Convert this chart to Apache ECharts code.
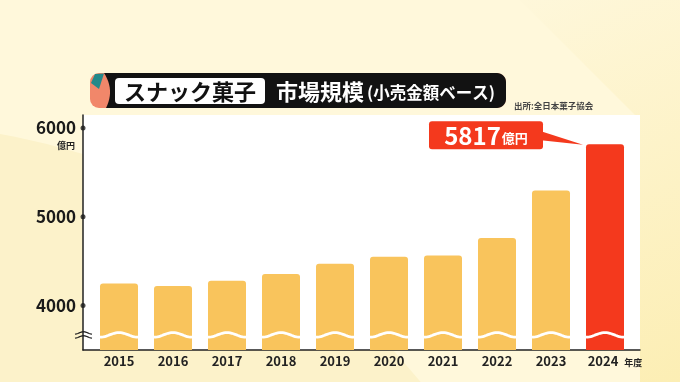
<!DOCTYPE html>
<html>
<head>
<meta charset="utf-8">
<script src="https://cdn.jsdelivr.net/npm/echarts@6/dist/echarts.min.js"></script>
<style>
html,body{margin:0;padding:0;background:#FFF8DB;}
#chart{width:680px;height:382px;}
</style>
</head>
<body>
<div id="chart"></div>
<script>
// ---- data ----
const years = ['2015','2016','2017','2018','2019','2020','2021','2022','2023','2024'];
const values = [4250, 4220, 4280, 4355, 4470, 4550, 4565, 4760, 5295, 5817];
const yTickLabels = [4000, 5000, 6000];
const yUnit = '億円';
const xUnit = '年度';
const calloutNumber = '5817';
const titleMain = 'スナック菓子';
const titleSub = '市場規模';
const titleParen = '(小売金額ベース)';
const sourceText = '出所:全日本菓子協会';
const breakValue = 3670;

const FONT = '"Noto Sans CJK JP", "Noto Sans", sans-serif';
const BAR = '#F9C45C';
const RED = '#F4391D';
const lastIdx = values.length - 1;

const chart = echarts.init(document.getElementById('chart'), null, {renderer:'canvas'});

function wavePoints(x0, x1, yc, amp, n) {
  const pts = [];
  for (let t = 0; t <= n; t++) {
    pts.push([x0 + (x1 - x0) * t / n, yc + amp * Math.cos(2 * Math.PI * t / n)]);
  }
  return pts;
}
function pillPoints() {
  const pts = [];
  for (let t = 0; t <= 12; t++) {
    const u = t / 12;
    const x = (1-u)*(1-u)*106 + 2*(1-u)*u*115 + u*u*104;
    const y = (1-u)*(1-u)*108 + 2*(1-u)*u*90 + u*u*73;
    pts.push([x, y]);
  }
  const r = 9, R = 506, T = 73, B = 108;
  for (let t = 0; t <= 8; t++) { const a = -Math.PI/2 + (Math.PI/2)*t/8; pts.push([R - r + r*Math.cos(a), T + r + r*Math.sin(a)]); }
  for (let t = 0; t <= 8; t++) { const a = (Math.PI/2)*t/8; pts.push([R - r + r*Math.cos(a), B - r + r*Math.sin(a)]); }
  return pts;
}

const option = {
  backgroundColor: '#FFF8DB',
  animation: false,
  textStyle: { fontFamily: FONT },
  grid: [
    { left: 83, right: 40, top: 115, bottom: 32, show: true, backgroundColor: '#FFFFFF', borderWidth: 0 },
    { left: 92, right: 48, top: 128, bottom: 32 }
  ],
  xAxis: [
    { gridIndex: 0, type: 'value', min: 0, max: 1,
      axisLine: { show: true, onZero: false, lineStyle: { color: '#222', width: 1.5 } },
      axisTick: { show: false }, axisLabel: { show: false }, splitLine: { show: false } },
    { gridIndex: 1, type: 'category', data: years,
      axisLine: { show: false }, axisTick: { show: false },
      axisLabel: {
        interval: 0, margin: 5, color: '#222', fontSize: 13, fontWeight: 'bold', fontFamily: FONT,
        formatter: (v, i) => i === lastIdx ? '{s|}{y|' + v + '}{u|' + xUnit + '}' : v,
        rich: {
          s: { width: 22 },
          y: { fontSize: 13, fontWeight: 'bold', color: '#222', fontFamily: FONT },
          u: { fontSize: 9, fontWeight: 'bold', color: '#222', width: 22, padding: [2, 0, 0, 4], fontFamily: FONT }
        }
      } }
  ],
  yAxis: [
    { gridIndex: 0, type: 'value', min: 3500, max: 6146, interval: 500,
      axisLine: { show: true, lineStyle: { color: '#222', width: 1.5 } },
      axisTick: { show: false }, splitLine: { show: false },
      axisLabel: { margin: 7, color: '#1a1a1a', fontSize: 17, fontWeight: 'bold', fontFamily: FONT,
        formatter: v => yTickLabels.includes(v) ? String(v) : '' } },
    { gridIndex: 1, type: 'value', min: 3500, max: 6000, show: false }
  ],
  series: [
    { type: 'bar', xAxisIndex: 1, yAxisIndex: 1, barWidth: 38,
      data: values.map((v, i) => ({ value: v, itemStyle: { color: i === lastIdx ? RED : BAR } })),
      itemStyle: { borderRadius: [3, 3, 0, 0] } },
    { type: 'scatter', xAxisIndex: 0, yAxisIndex: 0, symbolSize: 5, z: 5,
      itemStyle: { color: '#1a1a1a' }, clip: false,
      data: yTickLabels.map(v => [0, v]) },
    { type: 'custom', xAxisIndex: 1, yAxisIndex: 1, z: 10, clip: false,
      data: values.map((v, i) => [i, v]),
      renderItem: function (params, api) {
        const i = api.value(0);
        const v = api.value(1);
        const top = api.coord([i, v]);
        const base = api.coord([i, breakValue]);
        const half = 19;
        const children = [{
          type: 'polyline',
          shape: { points: wavePoints(top[0] - half, top[0] + half, base[1], 2.3, 24) },
          style: { stroke: '#FFFFFF', lineWidth: 2.8, fill: null }
        }];
        if (i === 0) {
          const ax = params.coordSys.x - 9;
          children.push({ type: 'polyline',
            shape: { points: wavePoints(ax - 8, ax + 9, base[1] - 2, 1.2, 12) },
            style: { stroke: '#222', lineWidth: 1.2, fill: null } });
          children.push({ type: 'polyline',
            shape: { points: wavePoints(ax - 8, ax + 9, base[1] + 2, 1.2, 12) },
            style: { stroke: '#222', lineWidth: 1.2, fill: null } });
        }
        if (i === lastIdx) {
          const cx = top[0], cy = top[1];
          children.push({ type: 'polygon',
            shape: { points: [[cx - 64, cy - 13], [cx - 64, cy - 4], [cx - 22, cy + 0.5]] },
            style: { fill: RED } });
          children.push({ type: 'rect',
            shape: { x: cx - 176, y: cy - 23, width: 114, height: 28, r: 3 },
            style: { fill: RED } });
          children.push({ type: 'text',
            style: {
              x: cx - 119, y: cy - 9, align: 'center', verticalAlign: 'middle',
              text: '{n|' + calloutNumber + '}{u|' + yUnit + '}',
              rich: {
                n: { fontSize: 24, fontWeight: 'bold', fill: '#fff', fontFamily: FONT, lineHeight: 26, verticalAlign: 'bottom' },
                u: { fontSize: 13, fontWeight: 'bold', fill: '#fff', fontFamily: FONT, lineHeight: 16, verticalAlign: 'bottom', padding: [0, 0, 4, 1] }
              }
            } });
        }
        return { type: 'group', children: children };
      } }
  ],
  graphic: [
    { type: 'circle', z: -10, silent: true, shape: { cx: -123, cy: 823, r: 700 },
      style: { fill: '#FCF2CA' } },
    { type: 'polygon', z: -10, silent: true,
      shape: { points: [[520, 0], [680, 0], [680, 382], [640, 382], [640, 120]] },
      style: { fill: new echarts.graphic.LinearGradient(0, 0, 1, 1, [
        { offset: 0, color: '#FEF7DA' }, { offset: 1, color: '#FCEEB4' }]) } },
    { type: 'rect', z: 20, shape: { x: 90, y: 73, width: 416, height: 35, r: 9 },
      style: { fill: '#F1876A' } },
    { type: 'polygon', z: 21, shape: { points: pillPoints() },
      style: { fill: '#121212' } },
    { type: 'polygon', z: 22,
      shape: { points: [[91, 83], [95, 74], [104, 73.5], [99, 89]] },
      style: { fill: '#23898A' } },
    { type: 'rect', z: 23, shape: { x: 115, y: 78, width: 150, height: 26, r: 4 },
      style: { fill: '#FFFFFF' } },
    { type: 'text', z: 24,
      style: { x: 190, y: 91.5, text: titleMain, align: 'center', verticalAlign: 'middle',
        font: 'bold 22px ' + FONT, fill: '#111' } },
    { type: 'text', z: 24,
      style: { x: 276, y: 91.5, text: titleSub, align: 'left', verticalAlign: 'middle',
        font: 'bold 22px ' + FONT, fill: '#fff' } },
    { type: 'text', z: 24,
      style: { x: 367, y: 93, text: titleParen, align: 'left', verticalAlign: 'middle',
        font: 'bold 16.5px ' + FONT, fill: '#fff' } },
    { type: 'text', z: 24,
      style: { x: 514, y: 106, text: sourceText, align: 'left', verticalAlign: 'middle',
        font: 'bold 8.5px ' + FONT, fill: '#444' } },
    { type: 'text', z: 24,
      style: { x: 75, y: 146, text: yUnit, align: 'right', verticalAlign: 'middle',
        font: 'bold 9px ' + FONT, fill: '#222' } }
  ]
};
chart.setOption(option);
</script>
</body>
</html>
